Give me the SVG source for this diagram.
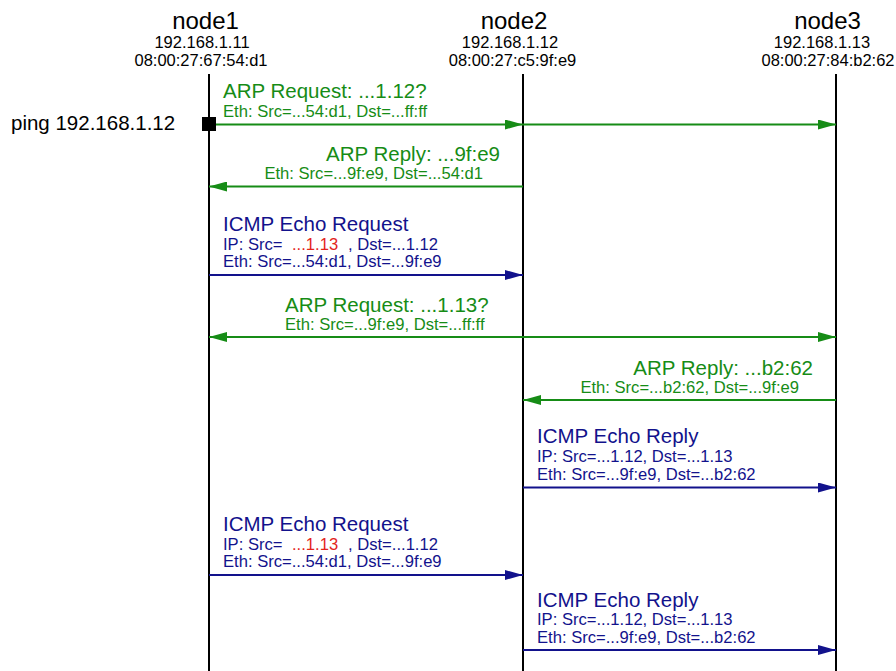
<svg xmlns="http://www.w3.org/2000/svg" width="896" height="671" viewBox="0 0 896 671">
  <style>
    text { font-family: "Liberation Sans", Arial, Helvetica, sans-serif; }
    .name { font-size: 24px; fill: #000; text-anchor: middle; }
    .addr { font-size: 16.5px; fill: #000; text-anchor: middle; }
    .life { stroke: #000; stroke-width: 2; fill: none; }
    .title { font-size: 20.5px; }
    .sub { font-size: 16.6px; }
    .arp { fill: #168c16; }
    .icmp { fill: #12128c; }
    .hl { fill: #e3241c; }
    .arp-line { stroke: #168c16; stroke-width: 2; fill: none; }
    .icmp-line { stroke: #12128c; stroke-width: 2; fill: none; }
  </style>
  <defs>
    <marker id="head-green" markerUnits="userSpaceOnUse" markerWidth="18" markerHeight="10" refX="18" refY="5" orient="auto-start-reverse">
      <path d="M0,0 L18,5 L0,10 z" fill="#168c16"/>
    </marker>
    <marker id="head-blue" markerUnits="userSpaceOnUse" markerWidth="18" markerHeight="10" refX="18" refY="5" orient="auto-start-reverse">
      <path d="M0,0 L18,5 L0,10 z" fill="#12128c"/>
    </marker>
  </defs>
  <rect width="896" height="671" fill="#fff"/>

  <g id="node1">
    <text class="name" x="205.5" y="29">node1</text>
    <text class="addr" x="202" y="48">192.168.1.11</text>
    <text class="addr" x="201" y="66">08:00:27:67:54:d1</text>
    <line class="life" x1="209" y1="74" x2="209" y2="671"/>
  </g>
  <g id="node2">
    <text class="name" x="514" y="29">node2</text>
    <text class="addr" x="510" y="48">192.168.1.12</text>
    <text class="addr" x="512.5" y="66">08:00:27:c5:9f:e9</text>
    <line class="life" x1="523" y1="74" x2="523" y2="671"/>
  </g>
  <g id="node3">
    <text class="name" x="827.5" y="29">node3</text>
    <text class="addr" x="822" y="48">192.168.1.13</text>
    <text class="addr" x="828" y="66">08:00:27:84:b2:62</text>
    <line class="life" x1="836" y1="74" x2="836" y2="671"/>
  </g>

  <g id="ping">
    <text x="11" y="130" style="font-size:20.5px" fill="#000">ping 192.168.1.12</text>
    <rect x="202" y="117" width="14" height="14" fill="#000"/>
  </g>

  <g id="connectors">
    <!-- ARP request for .12, broadcast -->
    <g id="arp-req-12">
      <line class="arp-line" x1="216" y1="124.5" x2="523" y2="124.5" marker-end="url(#head-green)"/>
      <line class="arp-line" x1="523" y1="124.5" x2="836" y2="124.5" marker-end="url(#head-green)"/>
      <text class="title arp" x="223" y="98">ARP Request: ...1.12?</text>
      <text class="sub arp" x="223" y="116.5">Eth: Src=...54:d1, Dst=...ff:ff</text>
    </g>
    <!-- ARP reply from node2 -->
    <g id="arp-rep-12">
      <line class="arp-line" x1="523" y1="186.5" x2="209" y2="186.5" marker-end="url(#head-green)"/>
      <text class="title arp" x="500" y="160.5" text-anchor="end">ARP Reply: ...9f:e9</text>
      <text class="sub arp" x="483" y="178.5" text-anchor="end">Eth: Src=...9f:e9, Dst=...54:d1</text>
    </g>
    <!-- first echo request -->
    <g id="icmp-req-1">
      <line class="icmp-line" x1="209" y1="275" x2="523" y2="275" marker-end="url(#head-blue)"/>
      <text class="title icmp" x="223" y="231">ICMP Echo Request</text>
      <text class="sub icmp" x="223" y="249.5">IP: Src=</text>
      <text class="sub hl" x="292" y="249.5">...1.13</text>
      <text class="sub icmp" x="348" y="249.5">, Dst=...1.12</text>
      <text class="sub icmp" x="223" y="267">Eth: Src=...54:d1, Dst=...9f:e9</text>
    </g>
    <!-- ARP request for .13, broadcast from node2 -->
    <g id="arp-req-13">
      <line class="arp-line" x1="209" y1="337" x2="836" y2="337" marker-start="url(#head-green)" marker-end="url(#head-green)"/>
      <text class="title arp" x="285" y="311.5">ARP Request: ...1.13?</text>
      <text class="sub arp" x="285" y="329.5">Eth: Src=...9f:e9, Dst=...ff:ff</text>
    </g>
    <!-- ARP reply from node3 -->
    <g id="arp-rep-13">
      <line class="arp-line" x1="836" y1="400" x2="523" y2="400" marker-end="url(#head-green)"/>
      <text class="title arp" x="813" y="374.5" text-anchor="end">ARP Reply: ...b2:62</text>
      <text class="sub arp" x="799" y="392.5" text-anchor="end">Eth: Src=...b2:62, Dst=...9f:e9</text>
    </g>
    <!-- first echo reply, forwarded to node3 -->
    <g id="icmp-rep-1">
      <line class="icmp-line" x1="523" y1="487.5" x2="836" y2="487.5" marker-end="url(#head-blue)"/>
      <text class="title icmp" x="537" y="443">ICMP Echo Reply</text>
      <text class="sub icmp" x="537" y="462">IP: Src=...1.12, Dst=...1.13</text>
      <text class="sub icmp" x="537" y="480">Eth: Src=...9f:e9, Dst=...b2:62</text>
    </g>
    <!-- second echo request -->
    <g id="icmp-req-2">
      <line class="icmp-line" x1="209" y1="575" x2="523" y2="575" marker-end="url(#head-blue)"/>
      <text class="title icmp" x="223" y="531">ICMP Echo Request</text>
      <text class="sub icmp" x="223" y="549.5">IP: Src=</text>
      <text class="sub hl" x="292" y="549.5">...1.13</text>
      <text class="sub icmp" x="348" y="549.5">, Dst=...1.12</text>
      <text class="sub icmp" x="223" y="567">Eth: Src=...54:d1, Dst=...9f:e9</text>
    </g>
    <!-- second echo reply -->
    <g id="icmp-rep-2">
      <line class="icmp-line" x1="523" y1="650" x2="836" y2="650" marker-end="url(#head-blue)"/>
      <text class="title icmp" x="537" y="606.5">ICMP Echo Reply</text>
      <text class="sub icmp" x="537" y="625">IP: Src=...1.12, Dst=...1.13</text>
      <text class="sub icmp" x="537" y="643">Eth: Src=...9f:e9, Dst=...b2:62</text>
    </g>
  </g>
</svg>
